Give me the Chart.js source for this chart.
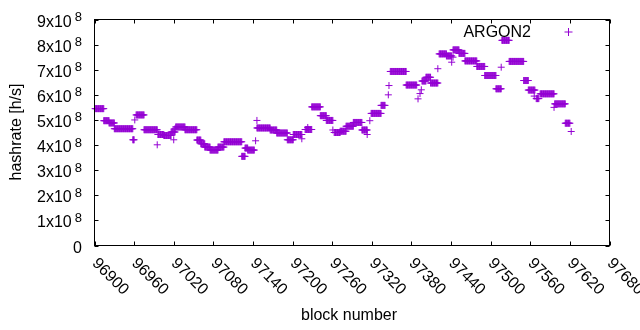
<!DOCTYPE html>
<html>
<head>
<meta charset="utf-8">
<script src="https://cdn.jsdelivr.net/npm/chart.js@4/dist/chart.umd.min.js"></script>
<style>
  html, body { margin: 0; padding: 0; background: #fff; }
  #wrap { width: 640px; height: 330px; }
</style>
</head>
<body>
<div id="wrap"><canvas id="hashChart"></canvas></div>
<script>
// hashrate, as runs of blocks with the same value
const runFirstBlock = [96901, 96914, 96922, 96930, 96958, 96961, 96963, 96975, 96995, 96996,
  97005, 97016, 97020, 97022, 97023, 97037, 97055, 97061, 97067, 97075,
  97087, 97096, 97123, 97128, 97132, 97144, 97146, 97146, 97166, 97176,
  97192, 97201, 97214, 97219, 97223, 97229, 97242, 97251, 97261, 97263,
  97272, 97281, 97292, 97305, 97313, 97317, 97319, 97334, 97345, 97346,
  97348, 97372, 97390, 97393, 97395, 97396, 97402, 97409, 97420, 97422,
  97433, 97441, 97443, 97443, 97452, 97461, 97479, 97491, 97508, 97516,
  97517, 97528, 97550, 97557, 97566, 97569, 97575, 97596, 97597, 97613,
  97622];
const runLastBlock = [96914, 96922, 96930, 96958, 96960, 96961, 96975, 96995, 96995, 97005,
  97016, 97022, 97020, 97022, 97037, 97055, 97061, 97067, 97075, 97087,
  97096, 97123, 97128, 97132, 97142, 97144, 97146, 97166, 97176, 97192,
  97201, 97214, 97214, 97229, 97223, 97242, 97251, 97261, 97261, 97272,
  97281, 97292, 97305, 97313, 97313, 97317, 97334, 97340, 97345, 97346,
  97372, 97388, 97390, 97393, 97395, 97402, 97409, 97420, 97420, 97433,
  97441, 97441, 97443, 97452, 97461, 97479, 97491, 97508, 97516, 97516,
  97528, 97550, 97557, 97567, 97566, 97573, 97596, 97596, 97613, 97620,
  97622];
const runHashrate = [5.45e8, 4.97e8, 4.88e8, 4.65e8, 4.21e8, 5.00e8, 5.20e8, 4.61e8, 4.01e8, 4.42e8,
  4.38e8, 4.52e8, 4.21e8, 4.65e8, 4.72e8, 4.61e8, 4.20e8, 4.05e8, 3.92e8, 3.80e8,
  3.92e8, 4.13e8, 3.55e8, 3.88e8, 3.80e8, 4.17e8, 4.98e8, 4.68e8, 4.60e8, 4.48e8,
  4.21e8, 4.42e8, 4.25e8, 4.62e8, 4.70e8, 5.52e8, 5.17e8, 4.98e8, 4.60e8, 4.50e8,
  4.55e8, 4.75e8, 4.90e8, 4.60e8, 4.42e8, 4.97e8, 5.26e8, 5.58e8, 6.00e8, 6.37e8,
  6.93e8, 6.39e8, 5.84e8, 6.05e8, 6.20e8, 6.55e8, 6.70e8, 6.47e8, 7.04e8, 7.63e8,
  7.55e8, 7.30e8, 7.50e8, 7.79e8, 7.65e8, 7.35e8, 7.13e8, 6.77e8, 6.24e8, 7.10e8,
  8.17e8, 7.33e8, 6.57e8, 6.19e8, 5.95e8, 5.85e8, 6.04e8, 5.50e8, 5.64e8, 4.87e8,
  4.54e8];

const xTicks = [96900, 96960, 97020, 97080, 97140, 97200, 97260, 97320, 97380, 97440, 97500, 97560, 97620, 97680];
const yTicks = [0, 1e8, 2e8, 3e8, 4e8, 5e8, 6e8, 7e8, 8e8, 9e8];
const yTickMantissa = ['0', '1', '2', '3', '4', '5', '6', '7', '8', '9'];
const yTickExponent = '8';

const seriesName = 'ARGON2';
const xTitle = 'block number';
const yTitle = 'hashrate [h/s]';
const purple = '#9400d3';
const font = '"Liberation Sans", Arial, sans-serif';

const points = [];
for (let i = 0; i < runFirstBlock.length; i++) {
  for (let b = runFirstBlock[i]; b <= runLastBlock[i]; b++) {
    points.push({ x: b, y: runHashrate[i] });
  }
}

// gnuplot style frame, inward ticks, rotated labels and key
const gnuplotFrame = {
  id: 'gnuplotFrame',
  afterDraw(chart) {
    const ctx = chart.ctx;
    const a = chart.chartArea;
    const xs = chart.scales.x;
    const ys = chart.scales.y;
    const tl = 4;
    ctx.save();
    ctx.strokeStyle = '#000';
    ctx.lineWidth = 1;
    ctx.strokeRect(a.left, a.top, a.right - a.left, a.bottom - a.top);
    ctx.beginPath();
    xTicks.forEach(v => {
      const px = Math.round(xs.getPixelForValue(v)) + 0.5;
      ctx.moveTo(px, a.bottom); ctx.lineTo(px, a.bottom - tl);
      ctx.moveTo(px, a.top); ctx.lineTo(px, a.top + tl);
    });
    yTicks.forEach(v => {
      const py = Math.round(ys.getPixelForValue(v)) + 0.5;
      ctx.moveTo(a.left, py); ctx.lineTo(a.left + tl, py);
      ctx.moveTo(a.right, py); ctx.lineTo(a.right - tl, py);
    });
    ctx.stroke();

    ctx.fillStyle = '#000';
    // y tick labels with superscript exponent
    yTicks.forEach((v, i) => {
      const py = ys.getPixelForValue(v);
      const rightEdge = 82;
      if (v === 0) {
        ctx.font = '16px ' + font;
        ctx.textAlign = 'right';
        ctx.textBaseline = 'alphabetic';
        ctx.fillText(yTickMantissa[i], rightEdge, py + 7);
        return;
      }
      ctx.font = '13px ' + font;
      const supW = ctx.measureText(yTickExponent).width;
      ctx.textAlign = 'left';
      ctx.textBaseline = 'alphabetic';
      ctx.fillText(yTickExponent, rightEdge - supW, py + 1.5);
      ctx.font = '16px ' + font;
      ctx.textAlign = 'right';
      ctx.fillText(yTickMantissa[i] + 'x10', rightEdge - supW - 3, py + 7);
    });

    // x tick labels rotated by -45 (gnuplot sense)
    ctx.font = '16px ' + font;
    ctx.textAlign = 'left';
    ctx.textBaseline = 'middle';
    xTicks.forEach(v => {
      const px = xs.getPixelForValue(v);
      ctx.save();
      ctx.translate(px, 261);
      ctx.rotate(Math.PI / 4);
      ctx.fillText(String(v), 0, 0);
      ctx.restore();
    });

    // axis titles
    ctx.textAlign = 'center';
    ctx.textBaseline = 'middle';
    ctx.fillText(xTitle, 349, 316);
    ctx.save();
    ctx.translate(17, 132);
    ctx.rotate(-Math.PI / 2);
    ctx.fillText(yTitle, 0, 0);
    ctx.restore();

    // key
    ctx.textAlign = 'right';
    ctx.textBaseline = 'alphabetic';
    ctx.fillText(chart.data.datasets[0].label, 531, 37);
    ctx.strokeStyle = purple;
    ctx.beginPath();
    ctx.moveTo(564.5, 32); ctx.lineTo(572.5, 32);
    ctx.moveTo(568.5, 28); ctx.lineTo(568.5, 36);
    ctx.stroke();
    ctx.restore();
  }
};

new Chart(document.getElementById('hashChart'), {
  type: 'scatter',
  data: {
    datasets: [{
      label: seriesName,
      data: points,
      pointStyle: 'cross',
      pointRadius: 3.5,
      pointHoverRadius: 3.5,
      pointBorderWidth: 1,
      borderColor: purple,
      backgroundColor: purple,
      clip: false
    }]
  },
  options: {
    responsive: true,
    maintainAspectRatio: false,
    animation: false,
    events: [],
    layout: { padding: { top: 19.5, right: 30.5, left: 0, bottom: 0 } },
    scales: {
      x: {
        type: 'linear',
        min: 96900,
        max: 97680,
        afterBuildTicks: s => { s.ticks = xTicks.map(v => ({ value: v })); },
        afterFit: s => { s.height = 84.5; },
        ticks: { display: false },
        grid: { display: false },
        border: { display: false }
      },
      y: {
        min: 0,
        max: 9e8,
        afterBuildTicks: s => { s.ticks = yTicks.map(v => ({ value: v })); },
        afterFit: s => { s.width = 94.5; },
        ticks: { display: false },
        grid: { display: false },
        border: { display: false }
      }
    },
    plugins: {
      legend: { display: false },
      tooltip: { enabled: false }
    }
  },
  plugins: [gnuplotFrame]
});
</script>
</body>
</html>
